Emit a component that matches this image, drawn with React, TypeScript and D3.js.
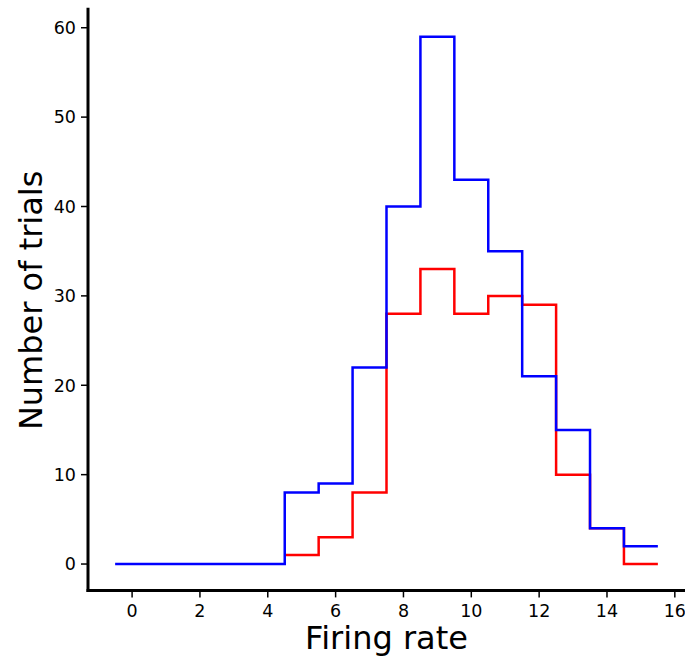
import React from "react";
import * as d3 from "d3";

const binCenters = [0, 1, 2, 3, 4, 5, 6, 7, 8, 9, 10, 11, 12, 13, 14, 15];
const blueCounts = [0, 0, 0, 0, 0, 8, 9, 22, 40, 59, 43, 35, 21, 15, 4, 2];
const redBins = [5, 6, 7, 8, 9, 10, 11, 12, 13, 14, 15];
const redCounts = [1, 3, 8, 28, 33, 28, 30, 29, 10, 4, 0];
const xTicks = [0, 2, 4, 6, 8, 10, 12, 14, 16];
const yTicks = [0, 10, 20, 30, 40, 50, 60];
const xLabel = "Firing rate";
const yLabel = "Number of trials";

const W = 685;
const H = 657;
const left = 88;
const right = 685;
const top = 10.3;
const bottom = 590.4;

const x = d3.scaleLinear().domain([-1.3, 16.3]).range([left, right]);
const y = d3.scaleLinear().domain([-2.95, 61.95]).range([bottom, top]);

function stepPath(bins: number[], counts: number[]): string {
  const pts: [number, number][] = bins.map((b, i) => [b - 0.5, counts[i]]);
  pts.push([bins[bins.length - 1] + 0.5, counts[counts.length - 1]]);
  const line = d3
    .line<[number, number]>()
    .x((d) => x(d[0]))
    .y((d) => y(d[1]))
    .curve(d3.curveStepAfter);
  return line(pts) || "";
}

export default function App() {
  const font = "DejaVu Sans, sans-serif";
  return (
    <svg
      width={W}
      height={H}
      style={{ position: "absolute", left: 0, top: 0, background: "#fff" }}
    >
      <rect width={W} height={H} fill="#fff" />
      <path d={stepPath(redBins, redCounts)} fill="none" stroke="#ff0000" strokeWidth={2.5} />
      <path d={stepPath(binCenters, blueCounts)} fill="none" stroke="#0000ff" strokeWidth={2.5} />
      {/* spines */}
      <line x1={left} x2={left} y1={top - 1} y2={bottom} stroke="#000" strokeWidth={3} strokeLinecap="square" />
      <line x1={left} x2={right} y1={bottom} y2={bottom} stroke="#000" strokeWidth={3} strokeLinecap="square" />
      {yTicks.map((t) => (
        <g key={"y" + t}>
          <line x1={left - 7} x2={left} y1={y(t)} y2={y(t)} stroke="#000" strokeWidth={1.5} />
          <text x={left - 12} y={y(t)} dy="0.36em" textAnchor="end" fontFamily={font} fontSize={17.5}>
            {t}
          </text>
        </g>
      ))}
      {xTicks.map((t) => (
        <g key={"x" + t}>
          <line x1={x(t)} x2={x(t)} y1={bottom} y2={bottom + 7} stroke="#000" strokeWidth={1.5} />
          <text x={x(t)} y={617} textAnchor="middle" fontFamily={font} fontSize={17.5}>
            {t}
          </text>
        </g>
      ))}
      <text x={(left + right) / 2} y={649} textAnchor="middle" fontFamily={font} fontSize={32}>
        {xLabel}
      </text>
      <text
        transform={`translate(41.5, ${(top + bottom) / 2}) rotate(-90)`}
        textAnchor="middle"
        fontFamily={font}
        fontSize={32}
      >
        {yLabel}
      </text>
    </svg>
  );
}
